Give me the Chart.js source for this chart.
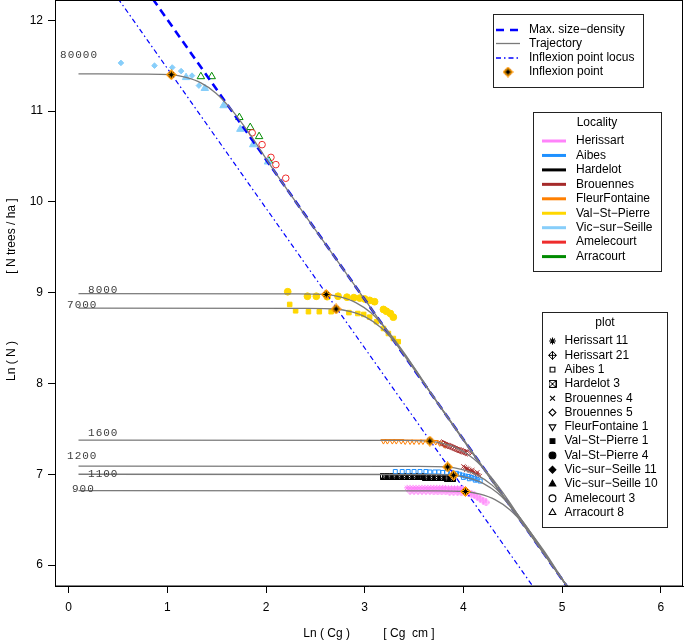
<!DOCTYPE html>
<html>
<head>
<meta charset="utf-8">
<script src="https://cdn.jsdelivr.net/npm/chart.js@4.4.0/dist/chart.umd.min.js"></script>
<style>
  html, body { margin: 0; padding: 0; background: #fff; }
</style>
</head>
<body>
<canvas id="chart" width="685" height="644"></canvas>
<script>
// --- data (x = ln Cg, y = ln N) ---
const xTicks = [0, 1, 2, 3, 4, 5, 6];
const yTicks = [6, 7, 8, 9, 10, 11, 12];

const maxLineX = [0.70, 5.15];
const maxLineY = [12.47, 5.61];
const locusX = [0.50, 4.85];
const locusY = [12.24, 5.54];

const trajLabels = ['80000', '8000', '7000', '1600', '1200', '1100', '900'];
const trajLabelX = [-0.087, 0.197, -0.016, 0.197, -0.016, 0.197, 0.034];
const trajLabelY = [11.615, 9.03, 8.86, 7.45, 7.20, 7.0, 6.835];

const trajX = [
  [0.1, 0.74, 1.04, 1.19, 1.34, 1.49, 1.64, 1.84, 2.04, 3.0, 5.15],
  [0.1, 2.31, 2.61, 2.76, 2.91, 3.06, 3.21, 3.41, 3.61, 5.15],
  [0.1, 2.41, 2.71, 2.86, 3.01, 3.16, 3.31, 3.51, 3.71, 5.15],
  [0.1, 3.36, 3.66, 3.81, 3.96, 4.11, 4.26, 4.46, 4.66, 5.15],
  [0.1, 3.54, 3.84, 3.99, 4.14, 4.29, 4.44, 4.64, 4.84, 5.15],
  [0.1, 3.60, 3.90, 4.05, 4.20, 4.35, 4.50, 4.70, 4.90, 5.15],
  [0.1, 3.72, 4.02, 4.17, 4.32, 4.47, 4.62, 4.82, 5.02, 5.15]
];
const trajY = [
  [11.41, 11.407, 11.40, 11.37, 11.31, 11.20, 11.03, 10.74, 10.41, 8.925, 5.614],
  [8.99, 8.987, 8.98, 8.95, 8.89, 8.78, 8.61, 8.32, 7.99, 5.614],
  [8.83, 8.827, 8.82, 8.79, 8.73, 8.62, 8.45, 8.16, 7.83, 5.614],
  [7.375, 7.372, 7.365, 7.335, 7.275, 7.165, 6.995, 6.705, 6.37, 5.614],
  [7.09, 7.087, 7.08, 7.05, 6.99, 6.88, 6.71, 6.42, 6.09, 5.614],
  [7.0, 6.997, 6.99, 6.96, 6.90, 6.79, 6.62, 6.33, 6.0, 5.614],
  [6.82, 6.817, 6.81, 6.78, 6.72, 6.61, 6.44, 6.15, 5.815, 5.614]
];

const inflexX = [1.04, 2.61, 2.71, 3.66, 3.84, 3.90, 4.02];
const inflexY = [11.40, 8.98, 8.82, 7.365, 7.08, 6.99, 6.81];

const localities = ['Herissart', 'Aibes', 'Hardelot', 'Brouennes', 'FleurFontaine', 'Val−St−Pierre', 'Vic−sur−Seille', 'Amelecourt', 'Arracourt'];
const localityColors = ['#ff83fa', '#1e90ff', '#000000', '#a52a2a', '#ff7f00', '#ffd700', '#87cefa', '#ee2c2c', '#008b00'];

const plotNames = ['Herissart 11', 'Herissart 21', 'Aibes 1', 'Hardelot 3', 'Brouennes 4', 'Brouennes 5', 'FleurFontaine 1',
  'Val−St−Pierre 1', 'Val−St−Pierre 4', 'Vic−sur−Seille 11', 'Vic−sur−Seille 10', 'Amelecourt 3', 'Arracourt 8'];

const herissart11 = [[3.43,6.85],[3.46,6.85],[3.49,6.85],[3.52,6.85],[3.55,6.85],[3.58,6.85],[3.61,6.85],[3.64,6.85],
  [3.67,6.85],[3.70,6.85],[3.73,6.85],[3.76,6.85],[3.79,6.85],[3.82,6.85],[3.85,6.845],[3.88,6.845],[3.91,6.845],
  [3.94,6.845],[3.97,6.845],[4.00,6.84]];
const herissart21 = [[3.46,6.815],[3.50,6.815],[3.54,6.815],[3.58,6.815],[3.62,6.815],[3.66,6.815],[3.70,6.81],[3.74,6.81],
  [3.78,6.81],[3.82,6.81],[3.86,6.805],[3.90,6.805],[3.94,6.805],[3.98,6.80],[4.02,6.80],[4.05,6.795],[4.08,6.785],
  [4.11,6.77],[4.14,6.75],[4.17,6.73],[4.20,6.71],[4.23,6.69]];
const aibes1 = [[3.31,7.03],[3.38,7.03],[3.44,7.03],[3.50,7.03],[3.56,7.03],[3.62,7.03],[3.66,7.025],[3.71,7.025],
  [3.75,7.025],[3.79,7.02],[3.83,7.02],[3.88,7.02],[3.93,7.01],[3.96,7.0],[3.99,6.99],[4.02,6.98],[4.05,6.975],
  [4.08,6.965],[4.11,6.955],[4.14,6.94],[4.17,6.925],[4.00,6.965],[4.06,6.95],[4.12,6.935]];
const hardelot3 = [[3.19,6.98],[3.215,6.98],[3.24,6.98],[3.265,6.98],[3.29,6.98],[3.315,6.978],[3.34,6.978],[3.365,6.978],
  [3.39,6.976],[3.415,6.976],[3.44,6.975],[3.465,6.975],[3.49,6.973],[3.515,6.973],[3.54,6.971],[3.565,6.971],
  [3.59,6.97],[3.615,6.968],[3.64,6.968],[3.665,6.966],[3.69,6.966],[3.715,6.964],[3.74,6.964],[3.765,6.962],
  [3.79,6.962],[3.815,6.96],[3.84,6.958],[3.865,6.956],[3.89,6.955]];
const brouennes4 = [[4.00,7.085],[4.015,7.075],[4.03,7.065],[4.045,7.06],[4.06,7.045],[4.075,7.04],[4.09,7.03],
  [4.105,7.02],[4.12,7.01],[4.135,7.0],[4.15,6.99],[4.165,6.98],[4.03,7.05],[4.09,7.045],[4.14,7.02]];
const brouennes5 = [[3.78,7.345],[3.80,7.335],[3.82,7.325],[3.84,7.315],[3.86,7.31],[3.88,7.30],[3.90,7.29],[3.92,7.28],
  [3.94,7.27],[3.96,7.265],[3.98,7.255],[4.00,7.25],[4.02,7.24],[4.04,7.235],[4.06,7.24]];
const fleurFontaine1 = [[3.19,7.365],[3.23,7.365],[3.28,7.365],[3.32,7.365],[3.37,7.365],[3.41,7.36],[3.46,7.36],[3.50,7.36],
  [3.55,7.36],[3.59,7.36],[3.72,7.355],[3.76,7.34],[3.81,7.32]];
const valStPierre1 = [[2.24,8.87],[2.30,8.80],[2.43,8.79],[2.54,8.79],[2.66,8.79],[2.84,8.78],[2.93,8.77],[2.99,8.76],
  [3.05,8.73],[3.12,8.68],[3.19,8.605],[3.24,8.55],[3.29,8.495],[3.34,8.46]];
const valStPierre4 = [[2.22,9.01],[2.42,8.96],[2.51,8.96],[2.62,8.955],[2.73,8.96],[2.82,8.95],[2.89,8.945],[2.95,8.94],
  [3.00,8.93],[3.05,8.915],[3.10,8.90],[3.19,8.815],[3.22,8.795],[3.26,8.77],[3.29,8.73]];
const vicSurSeille11 = [[0.53,11.53],[0.87,11.50],[1.05,11.48],[1.14,11.44],[1.25,11.39],[1.32,11.28]];
const vicSurSeille10 = [[1.19,11.37],[1.38,11.25],[1.57,11.06],[1.74,10.80],[1.87,10.63],[2.02,10.44]];
const amelecourt3 = [[1.86,10.76],[1.96,10.63],[2.05,10.49],[2.10,10.41],[2.20,10.26]];
const arracourt8 = [[1.34,11.38],[1.45,11.38],[1.73,10.93],[1.84,10.82],[1.93,10.72],[2.03,10.45]];

// --- little symbol images for the R plotting characters chart.js lacks ---
function makeSymbol(kind, color, size) {
  const c = document.createElement('canvas');
  c.width = size; c.height = size;
  const g = c.getContext('2d');
  const m = size / 2, e = size - 0.5;
  g.strokeStyle = color;
  g.lineWidth = 1;
  g.beginPath();
  if (kind === 'diamondPlus') {
    g.moveTo(m, 0.5); g.lineTo(e, m); g.lineTo(m, e); g.lineTo(0.5, m); g.closePath();
    g.moveTo(m, 0.5); g.lineTo(m, e); g.moveTo(0.5, m); g.lineTo(e, m);
  } else if (kind === 'boxX') {
    g.rect(0.5, 0.5, size - 1, size - 1);
    g.moveTo(0.5, 0.5); g.lineTo(e, e); g.moveTo(e, 0.5); g.lineTo(0.5, e);
  } else if (kind === 'inflexion') {
    g.fillStyle = '#ffa500';
    g.moveTo(m, 0.5); g.lineTo(e, m); g.lineTo(m, e); g.lineTo(0.5, m); g.closePath();
    g.fill();
    g.strokeStyle = '#ff8c00';
    g.stroke();
    g.beginPath();
    g.strokeStyle = '#000';
    const r = size * 0.28;
    g.moveTo(m - r, m); g.lineTo(m + r, m); g.moveTo(m, m - r); g.lineTo(m, m + r);
    g.moveTo(m - r * 0.7, m - r * 0.7); g.lineTo(m + r * 0.7, m + r * 0.7);
    g.moveTo(m + r * 0.7, m - r * 0.7); g.lineTo(m - r * 0.7, m + r * 0.7);
  }
  g.stroke();
  return c;
}

function toPoints(pairs) {
  return pairs.map(p => ({ x: p[0], y: p[1] }));
}

// symbol style of each plot, in the order of plotNames
const plotStyles = [
  { data: herissart11, color: localityColors[0], style: 'star', radius: 3 },
  { data: herissart21, color: localityColors[0], style: makeSymbol('diamondPlus', localityColors[0], 8), radius: 3 },
  { data: aibes1, color: localityColors[1], style: 'rect', radius: 2.8 },
  { data: hardelot3, color: localityColors[2], style: makeSymbol('boxX', '#000', 7), radius: 3 },
  { data: brouennes4, color: localityColors[3], style: 'crossRot', radius: 3 },
  { data: brouennes5, color: localityColors[3], style: 'rectRot', radius: 3.2 },
  { data: fleurFontaine1, color: localityColors[4], style: 'triangle', radius: 3, rotation: 180 },
  { data: valStPierre1, color: localityColors[5], style: 'rect', radius: 3.2, fill: true },
  { data: valStPierre4, color: localityColors[5], style: 'circle', radius: 3.4, fill: true },
  { data: vicSurSeille11, color: localityColors[6], style: 'rectRot', radius: 2.8, fill: true },
  { data: vicSurSeille10, color: localityColors[6], style: 'triangle', radius: 4.3, fill: true },
  { data: amelecourt3, color: localityColors[7], style: 'circle', radius: 3.3 },
  { data: arracourt8, color: localityColors[8], style: 'triangle', radius: 4.3 }
];

const datasets = [];

plotStyles.forEach((p, i) => {
  datasets.push({
    type: 'scatter',
    label: plotNames[i],
    data: toPoints(p.data),
    pointStyle: p.style,
    pointRadius: p.radius,
    pointRotation: p.rotation || 0,
    borderColor: p.color,
    backgroundColor: p.fill ? p.color : 'rgba(0,0,0,0)',
    pointBorderWidth: 1,
    order: 5
  });
});

datasets.push({
  type: 'line',
  label: 'Max. size-density',
  data: maxLineX.map((x, i) => ({ x: x, y: maxLineY[i] })),
  borderColor: '#0000ff',
  borderWidth: 2.6,
  borderDash: [8, 5],
  pointRadius: 0,
  order: 4
});

datasets.push({
  type: 'line',
  label: 'Inflexion point locus',
  data: locusX.map((x, i) => ({ x: x, y: locusY[i] })),
  borderColor: '#0000ff',
  borderWidth: 1.2,
  borderDash: [5, 3, 1.5, 3],
  pointRadius: 0,
  order: 4
});

trajX.forEach((xs, k) => {
  datasets.push({
    type: 'line',
    label: 'Trajectory ' + trajLabels[k],
    data: xs.map((x, i) => ({ x: x, y: trajY[k][i] })),
    borderColor: '#7a7a7a',
    borderWidth: 1.3,
    cubicInterpolationMode: 'monotone',
    pointRadius: 0,
    order: 3
  });
});

const inflexSymbol = makeSymbol('inflexion', '#000', 11);
datasets.push({
  type: 'scatter',
  label: 'Inflexion point',
  data: inflexX.map((x, i) => ({ x: x, y: inflexY[i] })),
  pointStyle: inflexSymbol,
  pointRadius: 5,
  order: 1
});

const textFont = '12px "Liberation Sans", Arial, sans-serif';

// box, trajectory labels, axis titles and the three legends
const decorations = {
  id: 'decorations',
  afterDatasetsDraw(chart) {
    const ctx = chart.ctx;
    const xs = chart.scales.x, ys = chart.scales.y;
    const a = chart.chartArea;
    ctx.save();
    ctx.font = '11px "Liberation Mono", "DejaVu Sans Mono", monospace';
    ctx.letterSpacing = '1px';
    ctx.fillStyle = '#404040';
    ctx.textBaseline = 'middle';
    ctx.textAlign = 'left';
    trajLabels.forEach((t, i) => {
      ctx.fillText(t, xs.getPixelForValue(trajLabelX[i]), ys.getPixelForValue(trajLabelY[i]));
    });
    ctx.restore();

    ctx.save();
    ctx.strokeStyle = '#000';
    ctx.lineWidth = 1;
    ctx.strokeRect(Math.round(a.left) + 0.5, 0.5, Math.round(a.right - a.left) - 1, Math.round(a.bottom) - 0.5);
    ctx.restore();
  },
  afterDraw(chart) {
    const ctx = chart.ctx;
    const a = chart.chartArea;
    ctx.save();
    ctx.fillStyle = '#000';
    ctx.font = textFont;
    ctx.textAlign = 'center';
    ctx.textBaseline = 'middle';
    ctx.fillText('Ln ( Cg )          [ Cg  cm ]', (a.left + a.right) / 2, 634);
    ctx.translate(12, 0);
    ctx.rotate(-Math.PI / 2);
    ctx.fillText('Ln ( N )', -361, 0);
    ctx.fillText('[ N trees / ha ]', -236, 0);
    ctx.restore();

    function box(x, y, w, h) {
      ctx.fillStyle = '#fff';
      ctx.fillRect(x, y, w, h);
      ctx.strokeStyle = '#222';
      ctx.lineWidth = 1;
      ctx.strokeRect(x + 0.5, y + 0.5, w, h);
      ctx.fillStyle = '#000';
    }

    ctx.save();
    ctx.font = textFont;
    ctx.textBaseline = 'middle';
    ctx.textAlign = 'left';

    // legend 1: reference lines
    box(493, 14, 150, 73);
    const rows1 = [30, 43.5, 58, 72];
    const refNames = ['Max. size−density', 'Trajectory', 'Inflexion point locus', 'Inflexion point'];
    ctx.lineCap = 'butt';
    ctx.strokeStyle = '#0000ff';
    ctx.lineWidth = 2.6;
    ctx.setLineDash([8, 6]);
    ctx.beginPath(); ctx.moveTo(496, rows1[0]); ctx.lineTo(520, rows1[0]); ctx.stroke();
    ctx.strokeStyle = '#7a7a7a';
    ctx.lineWidth = 1.3;
    ctx.setLineDash([]);
    ctx.beginPath(); ctx.moveTo(496, rows1[1]); ctx.lineTo(520, rows1[1]); ctx.stroke();
    ctx.strokeStyle = '#0000ff';
    ctx.lineWidth = 1.3;
    ctx.setLineDash([5, 3, 1.5, 3]);
    ctx.beginPath(); ctx.moveTo(496, rows1[2]); ctx.lineTo(520, rows1[2]); ctx.stroke();
    ctx.setLineDash([]);
    ctx.drawImage(inflexSymbol, 508 - 5.5, rows1[3] - 5.5);
    ctx.fillStyle = '#000';
    refNames.forEach((t, i) => ctx.fillText(t, 529, rows1[i]));

    // legend 2: localities
    box(533, 112, 128, 159);
    ctx.textAlign = 'center';
    ctx.fillText('Locality', 597, 123);
    ctx.textAlign = 'left';
    localities.forEach((t, i) => {
      const y = 141 + i * 14.45;
      ctx.strokeStyle = localityColors[i];
      ctx.lineWidth = 3;
      ctx.beginPath(); ctx.moveTo(542, y); ctx.lineTo(566, y); ctx.stroke();
      ctx.fillStyle = '#000';
      ctx.fillText(t, 576, y);
    });

    // legend 3: plots, symbols in black
    box(542, 312, 125, 215);
    ctx.textAlign = 'center';
    ctx.fillText('plot', 605, 323);
    ctx.textAlign = 'left';
    const blackSyms = { 1: makeSymbol('diamondPlus', '#000', 9), 3: makeSymbol('boxX', '#000', 8) };
    plotStyles.forEach((p, i) => {
      const y = 341 + i * 14.3;
      ctx.fillStyle = '#000';
      ctx.strokeStyle = '#000';
      ctx.lineWidth = 1.1;
      const st = blackSyms[i] || p.style;
      if (!p.fill) ctx.fillStyle = 'rgba(0,0,0,0)';
      Chart.helpers.drawPoint(ctx, {
        pointStyle: st, radius: (p.style === 'triangle' ? 3.8 : 3.4), rotation: p.rotation || 0, borderWidth: 1.1
      }, 552.5, y);
      ctx.fillStyle = '#000';
      ctx.fillText(plotNames[i], 564.5, y);
    });
    ctx.restore();
  }
};

new Chart(document.getElementById('chart'), {
  data: { datasets: datasets },
  options: {
    responsive: false,
    animation: false,
    layout: { autoPadding: false, padding: { left: 0, right: 2, top: 0, bottom: 0 } },
    plugins: { legend: { display: false }, tooltip: { enabled: false } },
    scales: {
      x: {
        type: 'linear',
        min: -0.138,
        max: 6.225,
        afterBuildTicks: s => { s.ticks = xTicks.map(v => ({ value: v })); },
        afterFit: s => { s.height = 58; s.paddingLeft = 0; s.paddingRight = 0; },
        grid: { drawOnChartArea: false, drawTicks: true, tickLength: 7, color: '#000' },
        border: { display: true, color: '#000', width: 1 },
        ticks: { color: '#000', font: { family: '"Liberation Sans", Arial', size: 12 }, padding: 7, maxRotation: 0 }
      },
      y: {
        type: 'linear',
        min: 5.769,
        max: 12.223,
        afterBuildTicks: s => { s.ticks = yTicks.map(v => ({ value: v })); },
        afterFit: s => { s.width = 55; s.paddingTop = 0; s.paddingBottom = 0; },
        grid: { drawOnChartArea: false, drawTicks: true, tickLength: 7, color: '#000' },
        border: { display: true, color: '#000', width: 1 },
        ticks: { color: '#000', font: { family: '"Liberation Sans", Arial', size: 12 }, padding: 5 }
      }
    }
  },
  plugins: [decorations]
});
</script>
</body>
</html>
